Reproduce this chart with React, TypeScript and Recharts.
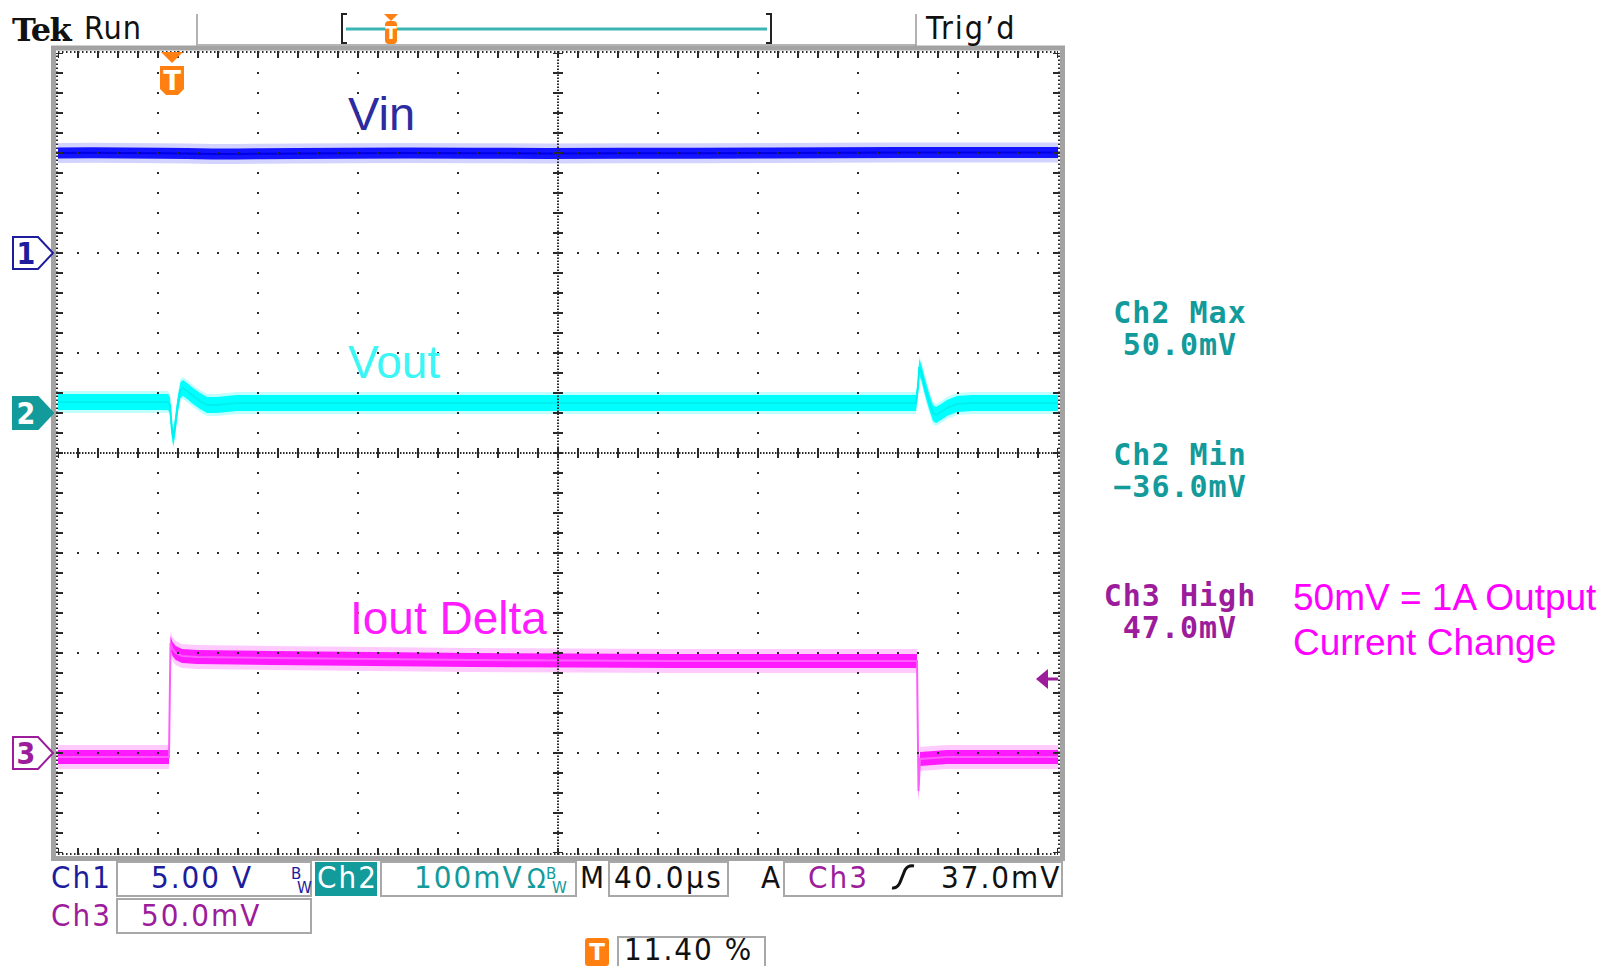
import React from 'react';
import { ComposedChart, Line, Area, XAxis, YAxis, ReferenceLine, ReferenceDot } from 'recharts';

// ---- Horizontal settings: 40 µs/div, 10 divisions, trigger at 11.40 % of the record
const TIME_PER_DIV_US = 40;
const H_DIVS = 10;
const V_DIVS = 8;
const TRIGGER_FRACTION = 0.114;
const T_LEFT = -TRIGGER_FRACTION * H_DIVS * TIME_PER_DIV_US;
const T_RIGHT = T_LEFT + H_DIVS * TIME_PER_DIV_US;

// ---- Vertical settings per channel (position in divisions from screen centre)
const CH1_VOLTS_PER_DIV = 5.0;
const CH1_POSITION_DIV = 2.0;
const CH2_MV_PER_DIV = 100;
const CH2_POSITION_DIV = 0.4;
const CH3_MV_PER_DIV = 50;
const CH3_POSITION_DIV = -3.0;
const CH3_TRIGGER_LEVEL_MV = 37.0;

// ---- Ch1: Vin (V)
const vinTimeUs = [-45.6, -32, -18, -4, 6, 16, 26, 36, 50, 70, 95, 120, 150, 180, 210, 240, 265, 290, 310, 330, 354.4];
const vinVolts = [5.0, 5.01, 5.0, 4.99, 4.97, 4.95, 4.95, 4.96, 4.98, 4.99, 5.0, 4.99, 4.98, 4.99, 4.99, 5.0, 5.01, 5.02, 5.03, 5.02, 5.02];

// ---- Ch2: Vout, AC coupled (mV)
const voutTimeUs = [
  -45.6, -1.6, -0.8, 0.0, 0.6, 1.4, 2.4, 3.4, 4.4, 6.0, 8.4, 11.2, 14.0, 18.0, 26.0,
  297.6, 298.4, 298.9, 299.8, 301.2, 302.8, 304.4, 305.6, 307.6, 310.0, 314.0, 320.0, 354.4,
];
const voutMv = [
  11, 11, 8, -18, -25, -10, 10, 23, 25, 22, 17, 12, 8, 8, 10,
  10, 26, 46, 40, 26, 12, 0, -2, 1, 5, 9, 10, 10,
];

// ---- Ch3: output current sense (mV, 50 mV = 1 A)
const ioutTimeUs = [-45.6, -1.2, -0.6, 0.2, 1.5, 4, 10, 40, 80, 120, 160, 200, 240, 280, 298.0, 298.6, 299.2, 310, 354.4];
const ioutMv = [-2, -2, 55, 52, 50, 48.5, 48, 47.5, 47, 46.5, 46.2, 46, 46, 46, 46, -19, -3, -2, -2];

type Row = { t: number; vin?: number; vout?: number; iout?: number };

// Merge all channels onto one time-sorted table, values in screen divisions
function buildTable(): Row[] {
  const rows = new Map<number, Row>();
  const put = (t: number, key: 'vin' | 'vout' | 'iout', v: number) => {
    const row = rows.get(t) ?? { t };
    row[key] = v;
    rows.set(t, row);
  };
  vinTimeUs.forEach((t, i) => put(t, 'vin', vinVolts[i] / CH1_VOLTS_PER_DIV + CH1_POSITION_DIV));
  voutTimeUs.forEach((t, i) => put(t, 'vout', voutMv[i] / CH2_MV_PER_DIV + CH2_POSITION_DIV));
  ioutTimeUs.forEach((t, i) => put(t, 'iout', ioutMv[i] / CH3_MV_PER_DIV + CH3_POSITION_DIV));
  return [...rows.values()].sort((a, b) => a.t - b.t);
}

const NAVY = '#1c1c9c';
const TEAL = '#139a9a';
const PURPLE = '#9c1c9c';
const ORANGE = '#ff7f10';
const GRID = '#2a2a2a';

const traces = [
  { key: 'vin' as const, core: '#1414ff', halo: '#a8a8ff', line: '#0000e6', coreHalf: 0.055, haloHalf: 0.1, haloOpacity: 0.5 },
  { key: 'vout' as const, core: '#00ffff', halo: '#a6fdfd', line: '#00f0f0', coreHalf: 0.08, haloHalf: 0.11, haloOpacity: 0.7 },
  { key: 'iout' as const, core: '#ff1aff', halo: '#ffa8ff', line: '#ff5cff', coreHalf: 0.07, haloHalf: 0.12, haloOpacity: 0.6 },
];

const DIV_US = TIME_PER_DIV_US;
const majorX = Array.from({ length: H_DIVS - 1 }, (_, i) => T_LEFT + (i + 1) * DIV_US).filter((_, i) => i !== 4);
const majorY = Array.from({ length: V_DIVS - 1 }, (_, i) => -3 + i).filter((v) => v !== 0);
const centreX = T_LEFT + (H_DIVS / 2) * DIV_US;

const cond = {
  fontFamily: "'DejaVu Sans Condensed', 'DejaVu Sans', sans-serif",
  fontSize: 31,
  letterSpacing: 2,
  style: { fontStretch: 'condensed' as const },
};
const mono = {
  fontFamily: "'DejaVu Sans Mono', monospace",
  fontSize: 30,
  fontWeight: 'bold' as const,
  letterSpacing: 1,
  textAnchor: 'middle' as const,
};
const arial = { fontFamily: "'Liberation Sans', Arial, sans-serif" };

function ChannelMarker(props: any) {
  const { cx, cy, label, color, filled } = props;
  const tip = cx - 5;
  const left = tip - 40;
  const body = tip - 15;
  const d = `M${left},${cy - 16} H${body} L${tip},${cy} L${body},${cy + 16} H${left} Z`;
  return (
    <g>
      <path d={d} fill={filled ? color : '#fff'} stroke={color} strokeWidth={2} />
      <text
        x={left + 13}
        y={cy + 11}
        textAnchor="middle"
        fontSize={30}
        fontFamily="'DejaVu Sans Condensed', 'DejaVu Sans', sans-serif"
        fontWeight="bold"
        style={{ fontStretch: 'condensed' }}
        fill={filled ? '#fff' : color}
      >
        {label}
      </text>
    </g>
  );
}

function TriggerTimeMarker(props: any) {
  const { cx, cy } = props;
  return (
    <g>
      <path d={`M${cx - 11},${cy - 1} H${cx + 11} L${cx},${cy + 10} Z`} fill={ORANGE} />
      <path
        d={`M${cx - 12},${cy + 13} H${cx + 12} V${cy + 36} L${cx + 6},${cy + 42} H${cx - 6} L${cx - 12},${cy + 36} Z`}
        fill={ORANGE}
      />
      <text x={cx} y={cy + 37} textAnchor="middle" fontSize={26} fontWeight="bold" fill="#fff" fontFamily="'DejaVu Sans', sans-serif">
        T
      </text>
    </g>
  );
}

function TriggerLevelArrow(props: any) {
  const { cx, cy } = props;
  return (
    <g>
      <line x1={cx - 12} y1={cy} x2={cx} y2={cy} stroke={PURPLE} strokeWidth={3} />
      <path d={`M${cx - 22},${cy} L${cx - 10},${cy - 10} V${cy + 10} Z`} fill={PURPLE} />
    </g>
  );
}

function Frame() {
  return (
    <svg width={1604} height={966} style={{ position: 'absolute', left: 0, top: 0 }}>
      {/* graticule bezel */}
      <rect x={53.5} y={48} width={1009} height={810.5} fill="none" stroke="#a3a3a3" strokeWidth={5} />

      {/* top status bar */}
      <text x={12} y={41} fontFamily="'DejaVu Serif', serif" fontWeight="bold" fontSize={32} letterSpacing={-1.5} fill="#111">
        Tek
      </text>
      <text x={84} y={39} {...cond} fontSize={32} letterSpacing={1} fill="#111">
        Run
      </text>
      <line x1={197} y1={14} x2={197} y2={46} stroke="#9a9a9a" strokeWidth={1.5} />
      <line x1={197} y1={45} x2={916} y2={45} stroke="#b4b4b4" strokeWidth={2} />
      <line x1={916} y1={14} x2={916} y2={46} stroke="#9a9a9a" strokeWidth={1.5} />
      <path d="M347,14 H342 V43 H347" fill="none" stroke="#222" strokeWidth={2} />
      <path d="M766,14 H771 V43 H766" fill="none" stroke="#222" strokeWidth={2} />
      <line x1={346} y1={29} x2={767} y2={29} stroke="#3cb4b4" strokeWidth={3} />
      <path d="M384,14 H398 L391,21 Z" fill={ORANGE} />
      <rect x={385} y={21} width={12} height={23} rx={4} fill={ORANGE} />
      <text x={391} y={39} textAnchor="middle" fontSize={17} fontWeight="bold" fill="#fff" fontFamily="'DejaVu Sans', sans-serif">
        T
      </text>
      <text x={926} y={39} {...cond} fontSize={32} fill="#111">
        Trig’d
      </text>

      {/* measurements */}
      <text x={1180} y={323} {...mono} fill={TEAL}>Ch2 Max</text>
      <text x={1180} y={355} {...mono} fill={TEAL}>50.0mV</text>
      <text x={1180} y={465} {...mono} fill={TEAL}>Ch2 Min</text>
      <text x={1180} y={497} {...mono} fill={TEAL}>−36.0mV</text>
      <text x={1180} y={606} {...mono} fill={PURPLE}>Ch3 High</text>
      <text x={1180} y={638} {...mono} fill={PURPLE}>47.0mV</text>
      <text x={1293} y={610} {...arial} fontSize={37} fill="#ff00ff">50mV = 1A Output</text>
      <text x={1293} y={655} {...arial} fontSize={37} fill="#ff00ff">Current Change</text>

      {/* bottom settings bar */}
      <text x={51} y={888} {...cond} fill={NAVY}>Ch1</text>
      <rect x={117} y={862} width={194} height={34} fill="#fff" stroke="#a8a8a8" strokeWidth={2} />
      <text x={151} y={888} {...cond} fill={NAVY}>5.00 V</text>
      <text x={291} y={879} fontSize={15} fill={NAVY} fontFamily="'DejaVu Sans', sans-serif">B</text>
      <text x={297} y={893} fontSize={15} fill={NAVY} fontFamily="'DejaVu Sans', sans-serif">W</text>
      <rect x={315} y={862} width={62} height={34} fill={TEAL} />
      <text x={317} y={888} {...cond} fill="#fff">Ch2</text>
      <rect x={381} y={862} width={195} height={34} fill="#fff" stroke="#a8a8a8" strokeWidth={2} />
      <text x={414} y={888} {...cond} fill={TEAL}>100mV</text>
      <text x={527} y={888} {...cond} letterSpacing={0} fontSize={27} fill={TEAL}>Ω</text>
      <text x={546} y={879} fontSize={15} fill={TEAL} fontFamily="'DejaVu Sans', sans-serif">B</text>
      <text x={552} y={893} fontSize={15} fill={TEAL} fontFamily="'DejaVu Sans', sans-serif">W</text>
      <text x={580} y={888} {...cond} letterSpacing={0} fill="#111">M</text>
      <rect x={609} y={862} width={119} height={34} fill="#fff" stroke="#a8a8a8" strokeWidth={2} />
      <text x={614} y={888} {...cond} letterSpacing={2.5} fill="#111">40.0µs</text>
      <text x={761} y={888} {...cond} fill="#111">A</text>
      <rect x={784} y={862} width={278} height={34} fill="#fff" stroke="#a8a8a8" strokeWidth={2} />
      <text x={808} y={888} {...cond} fill={PURPLE}>Ch3</text>
      <path d="M892,888 Q898,889 901,880 L905,870 Q908,865 914,866" fill="none" stroke="#111" strokeWidth={3} />
      <text x={941} y={888} {...cond} fill="#111">37.0mV</text>

      <text x={51} y={926} {...cond} fill={PURPLE}>Ch3</text>
      <rect x={117} y={899} width={194} height={34} fill="#fff" stroke="#a8a8a8" strokeWidth={2} />
      <text x={141} y={926} {...cond} fill={PURPLE}>50.0mV</text>

      <rect x={585} y={938} width={24} height={28} rx={3} fill={ORANGE} />
      <text x={597} y={960} textAnchor="middle" fontSize={23} fontWeight="bold" fill="#fff" fontFamily="'DejaVu Sans', sans-serif">
        T
      </text>
      <rect x={618} y={937} width={147} height={40} fill="#fff" stroke="#a8a8a8" strokeWidth={2} />
      <text x={624} y={960} {...cond} fill="#111">11.40 %</text>
    </svg>
  );
}

export default function App() {
  const table = buildTable();
  const trigDiv = CH3_TRIGGER_LEVEL_MV / CH3_MV_PER_DIV + CH3_POSITION_DIV;
  const px = 1 / 100; // one pixel in divisions (vertical)
  const pxT = DIV_US / 100; // one pixel in µs (horizontal)

  return (
    <div style={{ position: 'absolute', left: 0, top: 0, width: 1604, height: 966, background: '#fff', overflow: 'hidden' }}>
      <Frame />
      <div style={{ position: 'absolute', left: 0, top: 0 }}>
        <ComposedChart width={1604} height={966} data={table} margin={{ top: 53, right: 546, bottom: 113, left: 58 }}>
          <XAxis dataKey="t" type="number" domain={[T_LEFT, T_RIGHT]} allowDataOverflow hide height={0} />
          <YAxis type="number" domain={[-V_DIVS / 2, V_DIVS / 2]} allowDataOverflow hide width={0} />

          {/* traces: faint noise envelope, dense core band, thin centre line */}
          {traces.map((tr) => (
            <Area
              key={`${tr.key}-halo`}
              type="linear"
              dataKey={(r: Row) => (r[tr.key] == null ? null : [r[tr.key]! - tr.haloHalf, r[tr.key]! + tr.haloHalf])}
              stroke="none"
              fill={tr.halo}
              fillOpacity={tr.haloOpacity}
              connectNulls
              dot={false}
              activeDot={false}
              isAnimationActive={false}
            />
          ))}
          {traces.map((tr) => (
            <Area
              key={`${tr.key}-core`}
              type="linear"
              dataKey={(r: Row) => (r[tr.key] == null ? null : [r[tr.key]! - tr.coreHalf, r[tr.key]! + tr.coreHalf])}
              stroke="none"
              fill={tr.core}
              fillOpacity={1}
              connectNulls
              dot={false}
              activeDot={false}
              isAnimationActive={false}
            />
          ))}
          {traces.map((tr) => (
            <Line
              key={`${tr.key}-line`}
              type="linear"
              dataKey={tr.key}
              stroke={tr.line}
              strokeWidth={2}
              connectNulls
              dot={false}
              activeDot={false}
              isAnimationActive={false}
            />
          ))}

          {/* graticule: dotted division lines */}
          {majorX.map((x) => (
            <ReferenceLine key={`gx${x}`} x={x} stroke={GRID} strokeWidth={2} strokeDasharray="2 18" strokeDashoffset={1} />
          ))}
          {majorY.map((y) => (
            <ReferenceLine key={`gy${y}`} y={y} stroke={GRID} strokeWidth={2} strokeDasharray="2 18" strokeDashoffset={1} />
          ))}

          {/* graticule: centre cross with minor ticks */}
          <ReferenceLine y={0} stroke={GRID} strokeWidth={2} strokeDasharray="1.5 1.5" />
          <ReferenceLine y={0} stroke={GRID} strokeWidth={10} strokeDasharray="2 18" strokeDashoffset={1} />
          <ReferenceLine x={centreX} stroke={GRID} strokeWidth={2} strokeDasharray="1.5 1.5" />
          <ReferenceLine x={centreX} stroke={GRID} strokeWidth={10} strokeDasharray="2 18" strokeDashoffset={1} />

          {/* graticule: edge rulers */}
          <ReferenceLine y={V_DIVS / 2 + px} stroke={GRID} strokeWidth={2} strokeDasharray="1.5 2.5" ifOverflow="visible" />
          <ReferenceLine y={-V_DIVS / 2 - px} stroke={GRID} strokeWidth={2} strokeDasharray="1.5 2.5" ifOverflow="visible" />
          <ReferenceLine x={T_LEFT - pxT} stroke={GRID} strokeWidth={2} strokeDasharray="1.5 2.5" ifOverflow="visible" />
          <ReferenceLine x={T_RIGHT + pxT} stroke={GRID} strokeWidth={2} strokeDasharray="1.5 2.5" ifOverflow="visible" />
          <ReferenceLine y={V_DIVS / 2 - 1.5 * px} stroke={GRID} strokeWidth={7} strokeDasharray="2 18" strokeDashoffset={1} ifOverflow="visible" />
          <ReferenceLine y={-V_DIVS / 2 + 1.5 * px} stroke={GRID} strokeWidth={7} strokeDasharray="2 18" strokeDashoffset={1} ifOverflow="visible" />
          <ReferenceLine x={T_LEFT + 1.5 * pxT} stroke={GRID} strokeWidth={7} strokeDasharray="2 18" strokeDashoffset={1} ifOverflow="visible" />
          <ReferenceLine x={T_RIGHT - 1.5 * pxT} stroke={GRID} strokeWidth={7} strokeDasharray="2 18" strokeDashoffset={1} ifOverflow="visible" />

          {/* channel ground markers, trigger position and trigger level */}
          <ReferenceDot x={T_LEFT} y={CH1_POSITION_DIV} ifOverflow="visible" shape={(p: any) => <ChannelMarker {...p} label="1" color={NAVY} filled={false} />} />
          <ReferenceDot x={T_LEFT} y={CH2_POSITION_DIV} ifOverflow="visible" shape={(p: any) => <ChannelMarker {...p} label="2" color={TEAL} filled />} />
          <ReferenceDot x={T_LEFT} y={CH3_POSITION_DIV} ifOverflow="visible" shape={(p: any) => <ChannelMarker {...p} label="3" color={PURPLE} filled={false} />} />
          <ReferenceDot x={0} y={V_DIVS / 2} ifOverflow="visible" shape={(p: any) => <TriggerTimeMarker {...p} />} />
          <ReferenceDot x={T_RIGHT} y={trigDiv} ifOverflow="visible" shape={(p: any) => <TriggerLevelArrow {...p} />} />
        </ComposedChart>
      </div>

      {/* trace names */}
      <svg width={1604} height={966} style={{ position: 'absolute', left: 0, top: 0, pointerEvents: 'none' }}>
        <text x={348} y={130} {...arial} fontSize={47} fill="#2c2ca0">Vin</text>
        <text x={348} y={378} {...arial} fontSize={46} fill="#3cf6f6">Vout</text>
        <text x={350} y={634} {...arial} fontSize={46} fill="#ff1cff">Iout Delta</text>
      </svg>
    </div>
  );
}
